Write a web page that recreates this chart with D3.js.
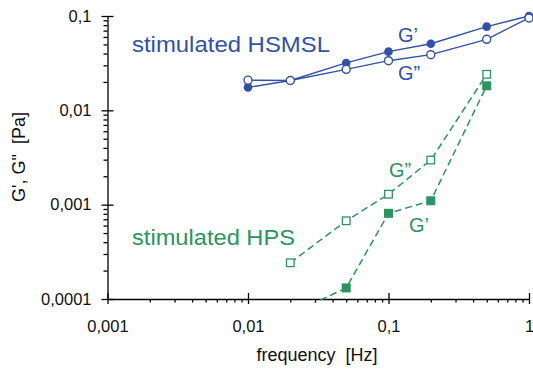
<!DOCTYPE html>
<html><head><meta charset="utf-8">
<script src="https://cdn.jsdelivr.net/npm/d3@7"></script>
<style>body{margin:0;background:#fff} svg{display:block} text{font-family:"Liberation Sans",Arial,sans-serif}</style>
</head><body><svg id="c" width="533" height="370"></svg>
<script>
const freqs = [0.01, 0.02, 0.05, 0.1, 0.2, 0.5, 1];
const hsmslG1 = [0.0175, 0.0207, 0.0318, 0.0419, 0.0508, 0.0771, 0.1];
const hsmslG2 = [0.0209, 0.0207, 0.0272, 0.0336, 0.0389, 0.0566, 0.0953];
const hpsFreqs = [0.02, 0.05, 0.1, 0.2, 0.5];
const hpsG1 = [0.000069, 0.000131, 0.00081, 0.0011, 0.0182];
const hpsG2 = [0.000242, 0.000675, 0.00129, 0.00297, 0.0241];
const xTicks = [0.001, 0.01, 0.1, 1];
const yTicks = [0.0001, 0.001, 0.01, 0.1];

const blue = "#3152a6", green = "#2c9460";
const svg = d3.select("#c");
const x = d3.scaleLog().domain([0.001, 1]).range([107.5, 529]);
const y = d3.scaleLog().domain([0.0001, 0.1]).range([299, 16]);
const fmt = d => String(d).replace(".", ",");

function minors(lo, hi) {
  const out = [];
  for (let p = lo; p < hi; p *= 10) for (let k = 2; k <= 9; k++) out.push(+(p * k).toPrecision(3));
  return out;
}

// x axis
const gx = svg.append("g").attr("transform", `translate(0,${y(0.0001)})`);
gx.call(d3.axisBottom(x).tickValues(minors(0.001, 1)).tickSize(3.5).tickFormat(""));
gx.call(g => g.select(".domain").remove());
const gx2 = svg.append("g").attr("transform", `translate(0,${y(0.0001)})`);
gx2.call(d3.axisBottom(x).tickValues(xTicks).tickSize(5).tickSizeOuter(0).tickPadding(16).tickFormat(fmt));
gx2.selectAll(".tick line").attr("y1", -6);
gx2.selectAll("text").attr("font-size", 16.5).attr("font-family", "Liberation Sans, Arial, sans-serif");

// y axis
const gy = svg.append("g").attr("transform", `translate(${x(0.001)},0)`);
gy.call(d3.axisLeft(y).tickValues(minors(0.0001, 0.1)).tickSize(4).tickFormat(""));
gy.call(g => g.select(".domain").remove());
const gy2 = svg.append("g").attr("transform", `translate(${x(0.001)},0)`);
gy2.call(d3.axisLeft(y).tickValues(yTicks).tickSize(6).tickSizeOuter(0).tickPadding(10).tickFormat(fmt));
gy2.selectAll(".tick line").attr("x1", 6);
gy2.selectAll("text").attr("font-size", 16.5).attr("font-family", "Liberation Sans, Arial, sans-serif");
svg.selectAll(".domain, .tick line").attr("stroke", "#000").attr("stroke-width", 1.3);
svg.selectAll(".tick text").attr("fill", "#111");

// clip
svg.append("clipPath").attr("id", "clip").append("rect")
  .attr("x", x(0.001)).attr("y", 0).attr("width", 540).attr("height", y(0.0001) + 3.5);

const plot = svg.append("g").attr("clip-path", "url(#clip)");
const line = d3.line().x(d => x(d[0])).y(d => y(d[1]));

const s1 = freqs.map((f, i) => [f, hsmslG1[i]]);
const s2 = freqs.map((f, i) => [f, hsmslG2[i]]);
const h1 = hpsFreqs.map((f, i) => [f, hpsG1[i]]);
const h2 = hpsFreqs.map((f, i) => [f, hpsG2[i]]);

plot.append("path").attr("d", line(h2)).attr("fill", "none").attr("stroke", green).attr("stroke-width", 1.5).attr("stroke-dasharray", "7,4");
plot.append("path").attr("d", line(h1)).attr("fill", "none").attr("stroke", green).attr("stroke-width", 1.5).attr("stroke-dasharray", "7,4");
plot.append("path").attr("d", line(s1)).attr("fill", "none").attr("stroke", blue).attr("stroke-width", 1.4);
plot.append("path").attr("d", line(s2)).attr("fill", "none").attr("stroke", blue).attr("stroke-width", 1.4);

plot.selectAll(".sq1").data(h1).join("rect")
  .attr("x", d => x(d[0]) - 4.5).attr("y", d => y(d[1]) - 4.5).attr("width", 9).attr("height", 9)
  .attr("fill", green);
plot.selectAll(".sq2").data(h2).join("rect")
  .attr("x", d => x(d[0]) - 3.8).attr("y", d => y(d[1]) - 3.8).attr("width", 7.6).attr("height", 7.6)
  .attr("fill", "#fff").attr("stroke", green).attr("stroke-width", 1.3);
plot.selectAll(".c1").data(s1).join("circle")
  .attr("cx", d => x(d[0])).attr("cy", d => y(d[1])).attr("r", 4.3).attr("fill", blue);
plot.selectAll(".c2").data(s2).join("circle")
  .attr("cx", d => x(d[0])).attr("cy", d => y(d[1])).attr("r", 4).attr("fill", "#fff")
  .attr("stroke", blue).attr("stroke-width", 1.4);

// annotations
function label(t, px, py, col, size, len) {
  const e = svg.append("text").attr("x", px).attr("y", py).attr("fill", col).attr("font-size", size).text(t);
  if (len) e.attr("textLength", len).attr("lengthAdjust", "spacingAndGlyphs");
}
label("stimulated HSMSL", 132, 52, blue, 22, 198);
label("stimulated HPS", 132, 245, green, 22, 163);
label("G’", 398, 42, blue, 20);
label("G”", 398, 80, blue, 20);
label("G”", 389, 177, green, 20);
label("G’", 409, 232, green, 20);

// axis titles
svg.append("text").attr("x", 317).attr("y", 361).attr("text-anchor", "middle")
  .attr("font-size", 18).attr("fill", "#111").style("white-space", "pre").text("frequency  [Hz]");
svg.append("text").attr("transform", "translate(25,157) rotate(-90)").attr("text-anchor", "middle")
  .attr("font-size", 18).attr("fill", "#111").style("white-space", "pre").text("G', G\"  [Pa]");
</script></body></html>
